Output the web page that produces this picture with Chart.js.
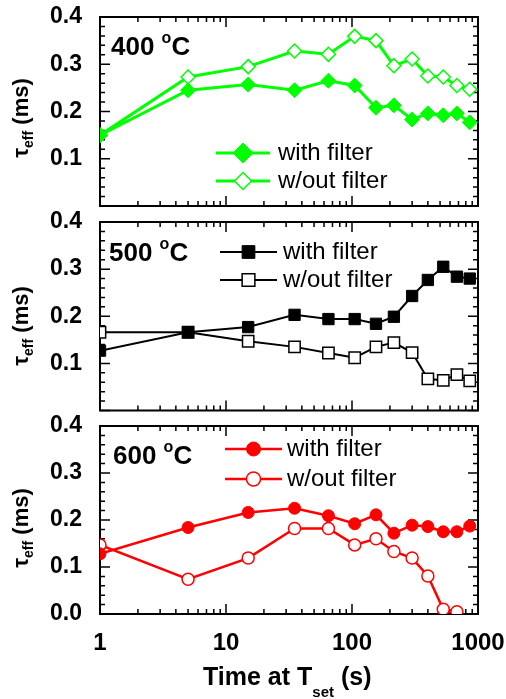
<!DOCTYPE html>
<html lang="en">
<head>
<meta charset="UTF-8">
<title>tau_eff vs time at T_set</title>
<script src="https://cdn.jsdelivr.net/npm/chart.js"></script>
<style>
  body { margin: 0; background: #fff; }
  #wrap { position: relative; width: 506px; height: 699px; overflow: hidden;
          font-family: 'Liberation Sans', Arial, sans-serif; color: #000; }
  canvas { position: absolute; left: 0; }
  .tag { position: absolute; font-weight: bold; font-size: 26px; line-height: 26px; white-space: nowrap; }
  .tag sup { font-size: 16px; vertical-align: baseline; position: relative; top: -12px; }
  .ylab { position: absolute; left: 22px; font-weight: bold; font-size: 22px; line-height: 22px;
          white-space: nowrap; transform: translate(-50%, -50%) rotate(-90deg); }
  .ylab sub { font-size: 14px; vertical-align: baseline; position: relative; top: 5px; }
  .xlab { position: absolute; left: 203px; top: 664px; font-weight: bold; font-size: 25px; line-height: 25px; white-space: nowrap; }
  .xlab sub { font-size: 15px; vertical-align: baseline; position: relative; top: 12px; }
</style>
</head>
<body>
<div id="wrap">
  <canvas id="p400" width="506" height="215" style="top:0px"></canvas>
  <canvas id="p500" width="506" height="210" style="top:210px"></canvas>
  <canvas id="p600" width="506" height="284" style="top:415px"></canvas>

  <div class="tag" style="left:111px; top:33px">400 <sup>o</sup>C</div>
  <div class="tag" style="left:109px; top:239px">500 <sup>o</sup>C</div>
  <div class="tag" style="left:113px; top:442px">600 <sup>o</sup>C</div>

  <div class="ylab" style="top:118px">&tau;<sub>eff</sub> (ms)</div>
  <div class="ylab" style="top:326px">&tau;<sub>eff</sub> (ms)</div>
  <div class="ylab" style="top:528px">&tau;<sub>eff</sub> (ms)</div>

  <div class="xlab">Time at T<sub>set</sub> (s)</div>
</div>

<script>
// annealing time (s) and effective lifetime (ms)
const timeS = [1, 5, 15, 35, 65, 105, 155, 215, 300, 400, 530, 680, 860];

const tau400With    = [0.150, 0.245, 0.257, 0.245, 0.265, 0.255, 0.208, 0.213, 0.183, 0.196, 0.192, 0.196, 0.177];
const tau400Without = [0.150, 0.273, 0.295, 0.328, 0.321, 0.359, 0.350, 0.297, 0.311, 0.275, 0.273, 0.255, 0.247];

const tau500With    = [0.127, 0.166, 0.177, 0.203, 0.194, 0.194, 0.184, 0.199, 0.243, 0.277, 0.305, 0.284, 0.280];
const tau500Without = [0.166, 0.166, 0.147, 0.135, 0.122, 0.112, 0.135, 0.144, 0.123, 0.067, 0.064, 0.076, 0.063];

const tau600With    = [0.128, 0.184, 0.216, 0.225, 0.209, 0.192, 0.211, 0.172, 0.189, 0.186, 0.175, 0.175, 0.187];
const tau600Without = [0.147, 0.074, 0.119, 0.182, 0.182, 0.147, 0.160, 0.133, 0.119, 0.081, 0.010, 0.005];

const xTickValues = [1, 10, 100, 1000];
const yTickValues = [0, 0.1, 0.2, 0.3, 0.4];

const FONT = "'Liberation Sans', Arial, sans-serif";
Chart.defaults.color = '#000';

function marker(ctx, style, x, y, r) {
  ctx.beginPath();
  if (style === 'circle') {
    ctx.arc(x, y, r, 0, Math.PI * 2);
  } else if (style === 'rect') {
    const s = r * Math.SQRT1_2;
    ctx.rect(x - s, y - s, 2 * s, 2 * s);
  } else {
    ctx.moveTo(x - r, y); ctx.lineTo(x, y - r); ctx.lineTo(x + r, y); ctx.lineTo(x, y + r);
    ctx.closePath();
  }
  ctx.fill();
  ctx.stroke();
}

// box + inward ticks on all four sides
const frameTicks = {
  id: 'frameTicks',
  beforeDatasetsDraw(chart) {
    const { ctx, chartArea: a, scales: { x, y } } = chart;
    ctx.save();
    ctx.strokeStyle = '#000';
    ctx.lineWidth = 1.5;
    ctx.beginPath();
    for (let k = 0; k <= 20; k++) {
      const py = y.getPixelForValue(k * 0.02);
      const len = k % 5 === 0 ? 10 : 5;
      ctx.moveTo(a.left, py); ctx.lineTo(a.left + len, py);
      ctx.moveTo(a.right, py); ctx.lineTo(a.right - len, py);
    }
    for (let d = 1; d <= 1000; d *= 10) {
      for (let m = 1; m <= 9; m++) {
        const v = d * m;
        if (v > 1000) break;
        const px = x.getPixelForValue(v);
        const len = m === 1 ? 10 : 5;
        ctx.moveTo(px, a.bottom); ctx.lineTo(px, a.bottom - len);
        ctx.moveTo(px, a.top); ctx.lineTo(px, a.top + len);
      }
    }
    ctx.stroke();
    ctx.lineWidth = 2;
    ctx.strokeRect(a.left, a.top, a.right - a.left, a.bottom - a.top);
    ctx.restore();
  }
};

// legend drawn inside the plot box
const inLegend = {
  id: 'inLegend',
  afterDatasetsDraw(chart, args, o) {
    const ctx = chart.ctx;
    chart.data.datasets.forEach((ds, i) => {
      const y = o.y + i * o.gap;
      ctx.save();
      ctx.strokeStyle = ds.borderColor;
      ctx.lineWidth = ds.borderWidth;
      ctx.beginPath();
      ctx.moveTo(o.x, y); ctx.lineTo(o.x + o.len, y);
      ctx.stroke();
      ctx.fillStyle = ds.pointBackgroundColor;
      ctx.lineWidth = ds.pointBorderWidth;
      marker(ctx, ds.pointStyle, o.x + o.len / 2, y, o.r[i]);
      ctx.fillStyle = '#000';
      ctx.font = '24px ' + FONT;
      ctx.textBaseline = 'middle';
      ctx.fillText(ds.label, o.textX, y);
      ctx.restore();
    });
  }
};

function series(label, ys, color, style, filled, lineW, r) {
  return {
    label: label,
    data: ys.map((v, i) => ({ x: timeS[i], y: v })),
    borderColor: color,
    borderWidth: lineW,
    pointStyle: style,
    pointRadius: r,
    pointBorderWidth: filled ? 1 : 1.5,
    pointBorderColor: color,
    pointBackgroundColor: filled ? color : '#fff'
  };
}

function panel(id, sets, p) {
  return new Chart(document.getElementById(id), {
    type: 'line',
    data: { datasets: sets },
    plugins: [frameTicks, inLegend],
    options: {
      responsive: false,
      animation: false,
      layout: { padding: { top: p.top, bottom: p.bottom, left: 0, right: 28 } },
      plugins: {
        legend: { display: false },
        tooltip: { enabled: false },
        inLegend: p.legend
      },
      scales: {
        x: {
          type: 'logarithmic', min: 1, max: 1000,
          display: p.showX,
          grid: { display: false }, border: { display: false },
          afterBuildTicks: s => { s.ticks = xTickValues.map(v => ({ value: v })); },
          afterFit: s => {
            if (!p.showX) return;
            s.height = 85; s.paddingLeft = 0; s.paddingRight = 0;
          },
          ticks: {
            autoSkip: false, maxRotation: 0, padding: 7,
            font: { family: FONT, size: 24, weight: 'bold' },
            callback: v => String(v)
          }
        },
        y: {
          min: 0, max: 0.4,
          grid: { display: false }, border: { display: false },
          afterBuildTicks: s => { s.ticks = yTickValues.map(v => ({ value: v })); },
          afterFit: s => { s.width = 100; s.paddingTop = 0; s.paddingBottom = 0; },
          ticks: {
            autoSkip: false, padding: 10,
            font: { family: FONT, size: 23, weight: 'bold' },
            callback: v => (v === 0 && !p.showZero) ? '' : v.toFixed(1)
          }
        }
      }
    }
  });
}

const green = '#00ff00', red = '#ff0000', black = '#000000';

panel('p400', [
  series('with filter', tau400With, green, 'rectRot', true, 3, 7.5),
  series('w/out filter', tau400Without, green, 'rectRot', false, 3, 7)
], { top: 17, bottom: 9, showX: false, showZero: false,
     legend: { x: 216, y: 153, gap: 28, len: 54, textX: 278, r: [10, 8.5] } });

panel('p500', [
  series('with filter', tau500With, black, 'rect', true, 2, 8),
  series('w/out filter', tau500Without, black, 'rect', false, 2, 8)
], { top: 12, bottom: 9, showX: false, showZero: false,
     legend: { x: 220, y: 42, gap: 28, len: 57, textX: 283, r: [9, 9] } });

panel('p600', [
  series('with filter', tau600With, red, 'circle', true, 2.5, 6),
  series('w/out filter', tau600Without, red, 'circle', false, 2.5, 6)
], { top: 11, bottom: 0, showX: true, showZero: true,
     legend: { x: 225, y: 34, gap: 30, len: 57, textX: 287, r: [7, 7] } });
</script>
</body>
</html>
